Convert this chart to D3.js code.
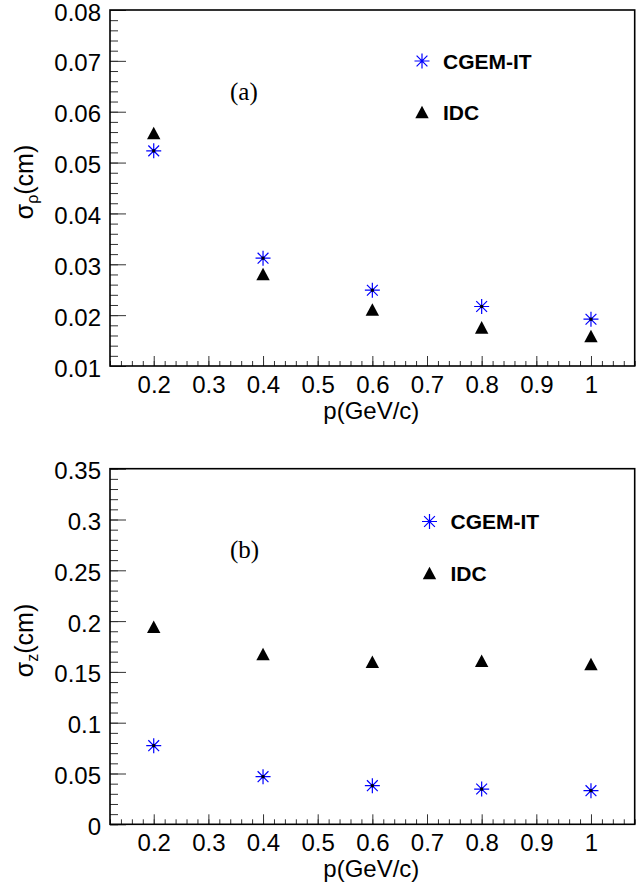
<!DOCTYPE html>
<html>
<head>
<meta charset="utf-8">
<script src="https://cdn.jsdelivr.net/npm/d3@7/dist/d3.min.js"></script>
<style>
  html, body { margin: 0; padding: 0; background: #fff; }
  svg { display: block; }
  text { font-family: "Liberation Sans", Arial, Helvetica, sans-serif; }
</style>
</head>
<body>
<svg id="chart" width="643" height="892"></svg>
<script>
// ---- data ----
const momenta = [0.2, 0.4, 0.6, 0.8, 1.0];
const rhoCGEM = [0.0523, 0.0312, 0.0249, 0.0217, 0.0192];
const rhoIDC  = [0.0558, 0.0281, 0.0211, 0.0176, 0.0159];
const zCGEM   = [0.0774, 0.0469, 0.0380, 0.0347, 0.0331];
const zIDC    = [0.1945, 0.1676, 0.1600, 0.1610, 0.1578];
const xTickLabels = [0.2, 0.3, 0.4, 0.5, 0.6, 0.7, 0.8, 0.9, 1.0];
const rhoTicks = [0.01, 0.02, 0.03, 0.04, 0.05, 0.06, 0.07, 0.08];
const zTicks = [0, 0.05, 0.1, 0.15, 0.2, 0.25, 0.3, 0.35];
const seriesNames = ["CGEM-IT", "IDC"];

const svg = d3.select("#chart");

function asteriskPath(cx, cy) {
  const r = 7.5, d = 5.4;
  return `M${cx - r},${cy}L${cx + r},${cy}M${cx},${cy - r}L${cx},${cy + r}` +
         `M${cx - d},${cy - d}L${cx + d},${cy + d}M${cx - d},${cy + d}L${cx + d},${cy - d}`;
}
function trianglePath(cx, cy) {
  const w = 6.7, h = 6.3;
  return `M${cx - w},${cy + h}L${cx + w},${cy + h}L${cx},${cy - h}Z`;
}

function drawAsterisk(g, cx, cy) {
  g.append("path").attr("d", asteriskPath(cx, cy))
    .attr("stroke", "#0000ff").attr("stroke-width", 1.2).attr("fill", "none");
}
function drawTriangle(g, cx, cy) {
  g.append("path").attr("d", trianglePath(cx, cy)).attr("fill", "#000");
}

function panel(opts) {
  const { top, bottom, yDomain, yTicks, yMinorStep, yFmt, cgem, idc, label, labelPos, legendPos, ytitleSub } = opts;
  const left = 110, right = 634.7;
  const x = d3.scaleLinear().domain([0.12, 1.08]).range([left, right]);
  const y = d3.scaleLinear().domain(yDomain).range([bottom, top]);
  const g = svg.append("g");

  const xMinor = d3.range(0.12, 1.0801, 0.02).map(v => +v.toFixed(3));
  const yMinor = d3.range(yDomain[0], yDomain[1] + 1e-9, yMinorStep).map(v => +v.toFixed(4));

  const styleLines = s => s.selectAll("line").attr("stroke", "#333").attr("stroke-width", 1);
  const styleText = s => s.selectAll("text").attr("font-size", 24).attr("fill", "#000")
      .attr("font-family", "Liberation Sans, Arial, sans-serif");

  g.append("g").attr("transform", `translate(0,${bottom})`)
    .call(d3.axisBottom(x).tickValues(xMinor).tickSize(-5).tickFormat(""))
    .call(s => s.select(".domain").remove()).call(styleLines);
  g.append("g").attr("transform", `translate(0,${bottom})`)
    .call(d3.axisBottom(x).tickValues(xTickLabels).tickSize(-10).tickPadding(10)
      .tickFormat(d => d === 1 ? "1" : d3.format(".1f")(d)))
    .call(s => s.select(".domain").remove()).call(styleLines).call(styleText);

  g.append("g").attr("transform", `translate(${left},0)`)
    .call(d3.axisLeft(y).tickValues(yMinor).tickSize(-8).tickFormat(""))
    .call(s => s.select(".domain").remove()).call(styleLines);
  g.append("g").attr("transform", `translate(${left},0)`)
    .call(d3.axisLeft(y).tickValues(yTicks).tickSize(-16).tickPadding(9).tickFormat(yFmt))
    .call(s => s.select(".domain").remove()).call(styleLines).call(styleText)
    .call(s => s.selectAll("text").attr("dy", "0.42em"));

  // frame
  g.append("rect").attr("x", left).attr("y", top).attr("width", right - left).attr("height", bottom - top)
    .attr("fill", "none").attr("stroke", "#000").attr("stroke-width", 1.6);

  // axis titles
  g.append("text").attr("x", (left + right) / 2 - 1).attr("y", bottom + 53)
    .attr("text-anchor", "middle").attr("font-size", 24).text("p(GeV/c)");
  const yt = g.append("text")
    .attr("transform", `translate(33,${(top + bottom) / 2 - 6}) rotate(-90)`)
    .attr("text-anchor", "middle").attr("font-size", 25);
  yt.append("tspan").text("σ");
  yt.append("tspan").attr("font-size", 16).attr("dy", 5).text(ytitleSub);
  yt.append("tspan").attr("dy", -5).text("(cm)");

  // panel label
  g.append("text").attr("x", labelPos[0]).attr("y", labelPos[1])
    .style("font-family", "'Liberation Serif', 'DejaVu Serif', serif").attr("font-size", 25).text(label);

  // points
  momenta.forEach((m, i) => {
    drawAsterisk(g, x(m), y(cgem[i]));
    g.append("rect").attr("x", x(m) - 1.5).attr("y", y(cgem[i]) - 1.5).attr("width", 3).attr("height", 3).attr("fill", "#000");
  });
  momenta.forEach((m, i) => drawTriangle(g, x(m), y(idc[i])));

  // legend
  const [lx, ly, gap] = legendPos;
  drawAsterisk(g, lx, ly);
  g.append("text").attr("x", lx + 21).attr("y", ly + 7.5).attr("font-size", 21).attr("font-weight", "bold").text(seriesNames[0]);
  drawTriangle(g, lx, ly + gap);
  g.append("text").attr("x", lx + 21).attr("y", ly + gap + 7.5).attr("font-size", 21).attr("font-weight", "bold").text(seriesNames[1]);
}

panel({
  top: 10, bottom: 366, yDomain: [0.01, 0.08], yTicks: rhoTicks, yMinorStep: 0.002,
  yFmt: d3.format(".2f"), cgem: rhoCGEM, idc: rhoIDC, label: "(a)", labelPos: [230, 100],
  legendPos: [422, 61, 51], ytitleSub: "ρ"
});
panel({
  top: 468.7, bottom: 824.3, yDomain: [0, 0.35], yTicks: zTicks, yMinorStep: 0.01,
  yFmt: d => d === 0 ? "0" : String(d), cgem: zCGEM, idc: zIDC, label: "(b)", labelPos: [230, 558],
  legendPos: [429.5, 521.5, 51.5], ytitleSub: "z"
});
</script>
</body>
</html>
